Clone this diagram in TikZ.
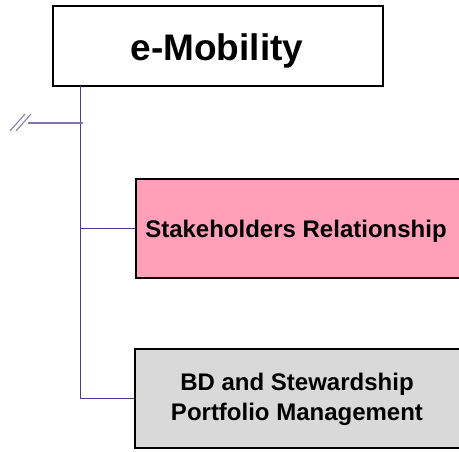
\documentclass[tikz,border=0pt]{standalone}
\usepackage{fontspec}
\setmainfont{Liberation Sans}
\definecolor{pinkfill}{HTML}{FF9FB8}
\definecolor{grayfill}{HTML}{D9D9D9}
\definecolor{linepurple}{HTML}{4E3A86}
\definecolor{lightpurple}{HTML}{8274AE}
\tikzset{
  box/.style={draw=black, line width=2pt, inner sep=0pt},
  lbl/.style={font=\bfseries\fontsize{24}{30}\selectfont, inner sep=0pt, align=center},
  conn/.style={draw=linepurple, line width=1pt},
  breakline/.style={draw=lightpurple, line width=1.2pt}
}
\begin{document}
\begin{tikzpicture}[x=1pt,y=-1pt]
\useasboundingbox (0,0) rectangle (459,451);
\clip (0,0) rectangle (459,451);
% top box
\node[box, fill=white, minimum width=330, minimum height=80] (top) at (218,46) {};
\node[lbl, font=\bfseries\fontsize{37}{40}\selectfont, anchor=base] (toptxt) at (217,60) {e-Mobility};
% pink box
\node[box, fill=pinkfill, minimum width=344, minimum height=99] (sr) at (308,228.5) {};
\node[lbl] (srt) at (296,231) {Stakeholders Relationship};
% gray box
\node[box, fill=grayfill, minimum width=346, minimum height=99] (bd) at (308,398.5) {};
\node[lbl] (bdt) at (297,399) {BD and Stewardship\\Portfolio Management};
% connectors
\coordinate (v) at (80,86);
\draw[conn] (v) |- (bd.west);
\draw[conn] (v |- sr.west) -- (sr.west);
% broken line
\coordinate (s0) at (28,123);
\coordinate (s1) at (83,123);
\draw[breakline] (s0) -- (s1);
\draw[breakline, line width=1pt] (10,131) -- (25,114);
\draw[breakline, line width=1pt] (16,131) -- (31,114);
\end{tikzpicture}
\end{document}
